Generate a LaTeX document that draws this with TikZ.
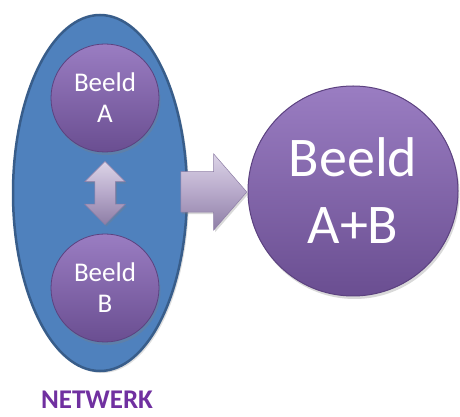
\documentclass[tikz,border=0pt]{standalone}
\usepackage{fontspec}
\setmainfont{Carlito}
\usetikzlibrary{positioning,calc,shapes.arrows,shapes.geometric,shadows}

\definecolor{netblauw}{HTML}{4F81BD}
\definecolor{netrand}{HTML}{385D8A}
\definecolor{paars}{HTML}{8064A2}
\definecolor{paarslicht}{HTML}{9A7DC2}
\definecolor{paarsdonker}{HTML}{6A4E91}
\definecolor{paarsrand}{HTML}{5C4280}
\definecolor{pijl}{HTML}{B7A9CA}
\definecolor{pijllicht}{HTML}{DCD4E7}
\definecolor{pijldonker}{HTML}{8E7EA6}
\definecolor{tekstpaars}{HTML}{7030A0}

\begin{document}
\begin{tikzpicture}[x=1pt,y=1pt,
    beeld/.style={circle,draw=paarsrand,line width=0.8pt,top color=paarslicht,
      bottom color=paarsdonker,text=white,align=center,inner sep=0pt,
      drop shadow={opacity=0.3,shadow xshift=1.5pt,shadow yshift=-3pt}},
    blokpijl/.style={draw=pijldonker,line width=0.5pt,top color=pijllicht,
      bottom color=pijldonker,middle color=pijl,inner xsep=0pt,
      drop shadow={opacity=0.3,shadow xshift=1.5pt,shadow yshift=-2pt}}]
  \useasboundingbox (0,0) rectangle (460,417);

  % netwerk met de twee beelden
  \node (netwerk) [ellipse,draw=netrand,line width=2.5pt,fill=netblauw,
    minimum width=174pt,minimum height=356pt,inner sep=0pt,
    drop shadow={opacity=0.25,shadow xshift=2pt,shadow yshift=-2pt}] at (100,224) {};
  \node (A) [beeld,minimum size=108pt,
    font=\fontsize{27}{31}\selectfont] at (105,319) {Beeld\\A};
  \node (B) [beeld,minimum size=108pt,
    font=\fontsize{27}{31}\selectfont] at (105,129) {Beeld\\B};
  \node (AB) [double arrow,blokpijl,rotate=90,minimum height=63pt,inner ysep=10pt,
    double arrow head extend=10pt,double arrow tip angle=90]
    at ($(A)!0.5!(B)$) {};

  \node (label) [font=\fontsize{27}{30}\selectfont\bfseries,text=tekstpaars,
    inner sep=0pt] at (97,17) {NETWERK};

  % samengevoegd beeld
  \node (AplusB) [beeld,minimum size=210pt,line width=1pt,
    font=\fontsize{56}{67}\selectfont] at (353,226) {Beeld\\A+B};
  \node (pijl) [single arrow,blokpijl,minimum height=66pt,inner ysep=20pt,
    single arrow head extend=18pt,single arrow tip angle=98,
    single arrow head indent=0pt] at (205,225) {};
\end{tikzpicture}
\end{document}
